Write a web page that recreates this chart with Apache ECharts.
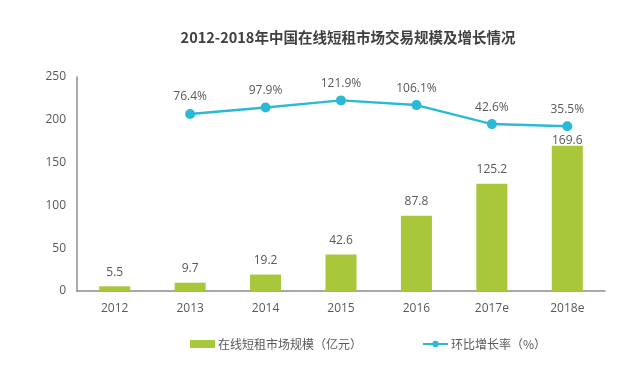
<!DOCTYPE html>
<html><head><meta charset="utf-8">
<script src="https://cdn.jsdelivr.net/npm/echarts@6/dist/echarts.min.js"></script>
<style>html,body{margin:0;padding:0;background:#fff}#c{width:640px;height:371px}</style>
</head><body><div id="c"></div>
<script>
const categories = ['2012','2013','2014','2015','2016','2017e','2018e'];
const marketSize = [5.5, 9.7, 19.2, 42.6, 87.8, 125.2, 169.6];
const growthRate = [null, 76.4, 97.9, 121.9, 106.1, 42.6, 35.5];
const yTicks = [0, 50, 100, 150, 200, 250];

const FONT = '"Open Sans", "Noto Sans CJK SC", sans-serif';
const chart = echarts.init(document.getElementById('c'));
chart.setOption({
  animation: false,
  textStyle: { fontFamily: FONT },
  title: {
    text: '2012-2018年中国在线短租市场交易规模及增长情况',
    left: 343, top: 25, textAlign: 'center',
    textStyle: { fontSize: 14.5, fontWeight: 'bold', color: '#404040', fontFamily: '"Noto Sans CJK SC", sans-serif' }
  },
  legend: {
    left: 185, top: 333, itemGap: 60, itemWidth: 25, itemHeight: 8,
    textStyle: { fontSize: 12, color: '#595959', fontFamily: '"Noto Sans CJK SC", sans-serif', padding: [0,0,0,-2] },
    data: [
      { name: '在线短租市场规模（亿元）', icon: 'rect' },
      { name: '环比增长率（%）' }
    ]
  },
  grid: { left: 77, right: 35, top: 77, bottom: 80, containLabel: false },
  xAxis: {
    type: 'category', data: categories,
    axisLine: { lineStyle: { color: '#8c8c8c', width: 1.5 } },
    axisTick: { show: false },
    axisLabel: { color: '#595959', fontSize: 12, margin: 12 }
  },
  yAxis: [
    {
      type: 'value', min: yTicks[0], max: yTicks[yTicks.length-1], interval: 50,
      axisLine: { show: true, lineStyle: { color: '#8c8c8c', width: 1.5 } },
      axisTick: { show: false }, splitLine: { show: false },
      axisLabel: { color: '#595959', fontSize: 12, margin: 11 }
    },
    { type: 'value', show: false, min: -515, max: 200, splitLine: { show: false } }
  ],
  series: [
    {
      name: '在线短租市场规模（亿元）', type: 'bar', barWidth: 31,
      itemStyle: { color: '#a8c73a' },
      data: marketSize.map((v, i) => i === marketSize.length - 1
        ? { value: v, label: { distance: -1 } } : v),
      label: { show: true, position: 'top', distance: 8, color: '#595959', fontSize: 12 }
    },
    {
      name: '环比增长率（%）', type: 'line', yAxisIndex: 1,
      data: growthRate, symbol: 'circle', symbolSize: 10,
      lineStyle: { color: '#2bbad6', width: 2.5 },
      itemStyle: { color: '#2bbad6' },
      label: { show: true, position: 'top', distance: 6, color: '#595959', fontSize: 12,
        formatter: p => p.value == null ? '' : p.value.toFixed(1) + '%' }
    }
  ]
});
</script></body></html>
